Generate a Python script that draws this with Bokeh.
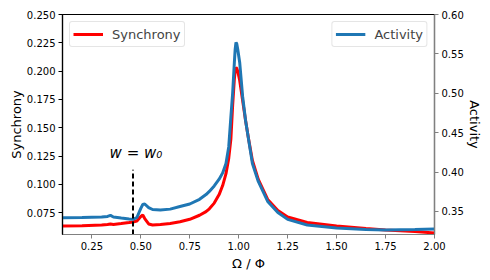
from bokeh.plotting import figure
from bokeh.models import (Range1d, LinearAxis, FixedTicker, PrintfTickFormatter,
                          Legend, LegendItem)
from bokeh.core.properties import value
from bokeh.embed import file_html
from bokeh.resources import INLINE

# ---- data ----
omega = [0.10, 0.20, 0.30, 0.33, 0.345, 0.36, 0.40, 0.44, 0.46, 0.48, 0.50, 0.51,
         0.52, 0.54, 0.56, 0.60, 0.65, 0.70, 0.75, 0.80, 0.833, 0.85, 0.875, 0.90,
         0.918, 0.935, 0.949, 0.96, 0.969, 0.978, 0.982, 0.986, 0.990, 0.995, 1.005,
         1.02, 1.035, 1.05, 1.07, 1.10, 1.148, 1.20, 1.25, 1.35, 1.50, 1.65, 1.75,
         1.90, 2.00]

synchrony = [0.0632, 0.0636, 0.0642, 0.0647, 0.0651, 0.0647, 0.0655, 0.0664, 0.0669,
             0.0677, 0.0717, 0.0730, 0.0699, 0.0651, 0.0642, 0.0647, 0.0655, 0.0670,
             0.0692, 0.0728, 0.0760, 0.0785, 0.0835, 0.0910, 0.0990, 0.1095, 0.1230,
             0.1400, 0.1697, 0.1935, 0.2005, 0.2032, 0.2025, 0.2000, 0.1917, 0.1741,
             0.1564, 0.1406, 0.1211, 0.1044, 0.0867, 0.0770, 0.0713, 0.0664, 0.0633,
             0.0611, 0.0598, 0.0585, 0.0572]

activity = [0.3420, 0.3424, 0.3430, 0.3437, 0.3450, 0.3430, 0.3417, 0.3405, 0.3400,
            0.3424, 0.3540, 0.3589, 0.3595, 0.3550, 0.3525, 0.3520, 0.3530, 0.3563,
            0.3595, 0.3655, 0.3715, 0.3755, 0.3825, 0.3910, 0.3990, 0.4110, 0.4320,
            0.4700, 0.5000, 0.5400, 0.5560, 0.5645, 0.5630, 0.5560, 0.5391, 0.4960,
            0.4655, 0.4420, 0.4109, 0.3881, 0.3627, 0.3487, 0.3400, 0.3329, 0.3290,
            0.3271, 0.3265, 0.3271, 0.3278]

w0 = 0.46
w0_line_top = 0.113
w0_label = "w = w\u2080"

x_ticks = [0.25, 0.50, 0.75, 1.00, 1.25, 1.50, 1.75, 2.00]
sync_ticks = [0.075, 0.100, 0.125, 0.150, 0.175, 0.200, 0.225, 0.250]
act_ticks = [0.35, 0.40, 0.45, 0.50, 0.55, 0.60]

x_lim = (0.1, 2.0)
sync_lim = (0.0558, 0.25)
act_lim = (0.3208, 0.60)

RED = "#ff0000"
BLUE = "#1f77b4"
GRAY = "#808080"
FONT = "DejaVu Sans"

p = figure(width=490, height=280, output_backend="svg", toolbar_location=None,
           x_range=Range1d(*x_lim), y_range=Range1d(*sync_lim),
           min_border_left=62, min_border_right=56, min_border_top=14,
           min_border_bottom=46)
p.extra_y_ranges = {"act": Range1d(*act_lim)}

p.xgrid.visible = False
p.ygrid.visible = False
p.outline_line_color = "black"
p.outline_line_width = 1.2
p.background_fill_color = "white"
p.border_fill_color = "white"

# lines
r_sync = p.line(omega, synchrony, line_color=RED, line_width=3)
r_act = p.line(omega, activity, line_color=BLUE, line_width=3, y_range_name="act")

# w = w0 marker
p.segment(x0=[w0], y0=[sync_lim[0]], x1=[w0], y1=[w0_line_top],
          line_color="black", line_width=2, line_dash="5 3")
p.text(x=[w0 + 0.015], y=[0.128], text=[w0_label], text_align="center",
       text_baseline="middle", text_font=value(FONT), text_font_size="15px",
       text_font_style="italic", text_color="black")

def style_axis(ax, ticks, fmt, line_color):
    ax.ticker = FixedTicker(ticks=ticks)
    ax.formatter = PrintfTickFormatter(format=fmt)
    ax.minor_tick_line_color = None
    ax.major_tick_in = 0
    ax.major_tick_out = 4
    ax.major_tick_line_color = line_color
    ax.axis_line_color = line_color
    ax.axis_line_width = 1.2
    ax.major_label_text_font = FONT
    ax.major_label_text_font_size = "10px"
    ax.major_label_text_color = "black"
    ax.major_label_standoff = 3
    ax.axis_label_text_font = FONT
    ax.axis_label_text_font_size = "13px"
    ax.axis_label_text_font_style = "normal"
    ax.axis_label_text_color = "black"
    ax.axis_label_standoff = 0

style_axis(p.xaxis[0], x_ticks, "%.2f", GRAY)
p.xaxis[0].axis_label = "\u03a9 / \u03a6"
p.xaxis[0].axis_label_standoff = 3
style_axis(p.yaxis[0], sync_ticks, "%.3f", "black")
p.yaxis[0].axis_label = "Synchrony"

ax_r = LinearAxis(y_range_name="act", axis_label="Activity")
style_axis(ax_r, act_ticks, "%.2f", GRAY)
p.add_layout(ax_r, "right")

def make_legend(label, renderer, loc):
    lg = Legend(items=[LegendItem(label=label, renderers=[renderer])], location=loc)
    lg.label_text_font = FONT
    lg.label_text_font_size = "13px"
    lg.border_line_color = "#cccccc"
    lg.border_line_width = 1
    lg.background_fill_alpha = 0.8
    lg.glyph_width = 30
    lg.glyph_height = 18
    lg.label_height = 18
    lg.label_standoff = 9
    lg.padding = 3
    lg.margin = 7
    lg.spacing = 0
    if "border_radius" in Legend.properties():
        lg.border_radius = 3
    return lg

p.add_layout(make_legend("Synchrony", r_sync, "top_left"))
p.add_layout(make_legend("Activity", r_act, "top_right"))

open("out.html", "w").write(file_html(p, INLINE))
